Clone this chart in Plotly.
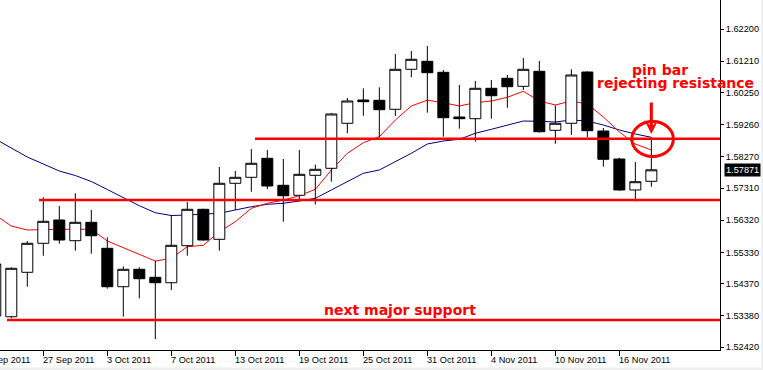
import plotly.graph_objects as go

# ---------------- data ----------------
bar_idx = list(range(-3, 39))   # trading-day index, 0 = 27 Sep 2011

opens = [1.53375, 1.53353, 1.54719, 1.55611, 1.56327, 1.55691, 1.56256, 1.55457, 1.54276, 1.54811,
         1.54565, 1.54399, 1.55537, 1.56656, 1.55734, 1.57456, 1.57640, 1.58224, 1.57394, 1.57087,
         1.57702, 1.57917, 1.59301, 1.60017, 1.60008, 1.59731, 1.60961, 1.61207, 1.60869, 1.59494,
         1.59442, 1.60377, 1.60684, 1.60438, 1.60900, 1.59085, 1.59301, 1.60878, 1.59064, 1.58203,
         1.57250, 1.57517]
highs = [1.55000, 1.54872, 1.55681, 1.57025, 1.56758, 1.57148, 1.56635, 1.55795, 1.54903, 1.54872,
         1.55066, 1.56481, 1.56881, 1.56675, 1.57957, 1.57834, 1.58510, 1.58480, 1.58203, 1.58480,
         1.58028, 1.59617, 1.60079, 1.60377, 1.60408, 1.61432, 1.61524, 1.61678, 1.60940, 1.60478,
         1.60601, 1.60632, 1.60786, 1.61309, 1.61216, 1.59854, 1.60961, 1.60900, 1.59156, 1.58243,
         1.58111, 1.58870]
lows = [1.53340, 1.53304, 1.54276, 1.55229, 1.55598, 1.55383, 1.55291, 1.54215, 1.53353, 1.53919,
        1.52668, 1.54175, 1.55229, 1.55691, 1.55383, 1.56635, 1.57197, 1.57280, 1.56275, 1.56942,
        1.56804, 1.57505, 1.58993, 1.59534, 1.58870, 1.59525, 1.60715, 1.59627, 1.58889, 1.59135,
        1.58735, 1.59442, 1.59780, 1.60325, 1.59012, 1.58673, 1.58941, 1.58870, 1.57966, 1.57228,
        1.56902, 1.57351]
closes = [1.54974, 1.54842, 1.55611, 1.56287, 1.55712, 1.56256, 1.55844, 1.54276, 1.54811, 1.54522,
          1.54399, 1.55549, 1.56656, 1.55712, 1.57456, 1.57640, 1.58071, 1.57373, 1.57074, 1.57732,
          1.57886, 1.59587, 1.59986, 1.59965, 1.59719, 1.60961, 1.61269, 1.60857, 1.59473, 1.59442,
          1.60377, 1.60149, 1.60426, 1.60961, 1.59042, 1.59301, 1.60786, 1.59073, 1.58194, 1.57250,
          1.57505, 1.57871]

ma_fast = [1.56481, 1.56143, 1.56020, 1.56041, 1.56041, 1.56041, 1.56041, 1.55681, 1.55475, 1.55282,
           1.55066, 1.55149, 1.55506, 1.55549, 1.55967, 1.56275, 1.56687, 1.56841, 1.56942, 1.57074,
           1.57271, 1.57865, 1.58378, 1.58704, 1.58889, 1.59402, 1.59833, 1.60011, 1.59934, 1.59833,
           1.59934, 1.59986, 1.60100, 1.60285, 1.59986, 1.59863, 1.59986, 1.59894, 1.59494, 1.59033,
           1.58664, 1.58480]
ma_slow = [1.58818, 1.58541, 1.58264, 1.58049, 1.57834, 1.57695, 1.57511, 1.57265, 1.57019, 1.56767,
           1.56551, 1.56465, 1.56481, 1.56502, 1.56533, 1.56635, 1.56736, 1.56810, 1.56841, 1.56911,
           1.56994, 1.57250, 1.57505, 1.57763, 1.57865, 1.58120, 1.58378, 1.58664, 1.58756, 1.58809,
           1.58993, 1.59116, 1.59239, 1.59371, 1.59362, 1.59341, 1.59402, 1.59371, 1.59248, 1.59095,
           1.58972, 1.58870]

tick_idx = [-4, 0, 4, 8, 12, 16, 20, 24, 28, 32, 36]
tick_labels = ["21 Sep 2011", "27 Sep 2011", "3 Oct 2011", "7 Oct 2011", "13 Oct 2011",
               "19 Oct 2011", "25 Oct 2011", "31 Oct 2011", "4 Nov 2011", "10 Nov 2011",
               "16 Nov 2011"]

price_ticks = [1.62200, 1.61210, 1.60250, 1.59260, 1.58270, 1.57310, 1.56320, 1.55330,
               1.54370, 1.53380, 1.52420]
price_tick_labels = ["1.62200", "1.61210", "1.60250", "1.59260", "1.58270", "1.57310",
                     "1.56320", "1.55330", "1.54370", "1.53380", "1.52420"]
last_price = 1.57871
last_price_label = "1.57871"

levels = [1.58824, 1.56942, 1.53252]          # drawn horizontal lines
level_start = [13.23, -0.27, -2.27]           # bar index where each line begins

pin_bar_idx = 38
circle_x = [36.78, 39.375]
circle_y = [1.58280, 1.59356]
arrow_tip = 1.58971

notes = ["pin bar", "rejecting resistance", "next major support"]
note_x = [38.54, 39.49, 22.27]
note_y = [1.60949, 1.60555, 1.53560]

# ---------------- figure ----------------
x_range = [-2.706, 42.29]
y_range = [1.52330, 1.63092]
RED = "#ff0000"
AX_FONT = dict(family="Liberation Sans, Arial, sans-serif", size=9.2, color="black")

fig = go.Figure()

# moving averages on the base axes (drawn beneath candles)
fig.add_trace(go.Scatter(x=bar_idx, y=ma_slow, mode="lines",
                         line=dict(color="#000080", width=1), hoverinfo="skip",
                         showlegend=False, xaxis="x", yaxis="y"))
fig.add_trace(go.Scatter(x=bar_idx, y=ma_fast, mode="lines",
                         line=dict(color=RED, width=1), hoverinfo="skip",
                         showlegend=False, xaxis="x", yaxis="y"))

# candles on overlaying axes so they sit above the MA lines
fig.add_trace(go.Candlestick(x=bar_idx, open=opens, high=highs, low=lows, close=closes,
                             increasing=dict(line=dict(color="black", width=1), fillcolor="white"),
                             decreasing=dict(line=dict(color="black", width=1), fillcolor="black"),
                             whiskerwidth=0, hoverinfo="skip", showlegend=False,
                             xaxis="x2", yaxis="y2"))

shapes = []
for lv, xs in zip(levels, level_start):
    shapes.append(dict(type="line", xref="x", yref="y", x0=xs, x1=x_range[1], y0=lv, y1=lv,
                       line=dict(color=RED, width=2.5), layer="above"))
shapes.append(dict(type="circle", xref="x", yref="y", x0=circle_x[0], x1=circle_x[1],
                   y0=circle_y[0], y1=circle_y[1], line=dict(color=RED, width=3), layer="above"))
# light window frame at bottom / right edge
shapes.append(dict(type="rect", xref="paper", yref="paper", x0=-0.01, x1=1.1,
                   y0=-20 / 350, y1=-17.5 / 350, fillcolor="#f0f0f0", line=dict(width=0)))
shapes.append(dict(type="rect", xref="paper", yref="paper", x0=761 / 720, x1=1.1,
                   y0=-0.1, y1=1.01, fillcolor="#f0f0f0", line=dict(width=0)))

annotations = []
span = x_range[1] - x_range[0]
for ti, tl in zip(tick_idx, tick_labels):
    annotations.append(dict(text=tl, xref="paper", yref="paper",
                            x=(ti - x_range[0]) / span, y=0, xanchor="left", yanchor="top",
                            xshift=-2, yshift=-3, showarrow=False, font=AX_FONT))

for t, nx, ny in zip(notes, note_x, note_y):
    annotations.append(dict(text=t, x=nx, y=ny, xref="x", yref="y", showarrow=False,
                            xanchor="center", yanchor="middle",
                            font=dict(family="DejaVu Sans", size=14, color=RED, weight="bold")))

annotations.append(dict(x=pin_bar_idx, y=arrow_tip, xref="x", yref="y", text="",
                        showarrow=True, arrowhead=3, arrowsize=0.8, arrowwidth=3,
                        arrowcolor=RED, ax=0, ay=-33, standoff=0))

annotations.append(dict(text=last_price_label, xref="paper", yref="y", x=1, y=last_price,
                        xanchor="left", yanchor="middle", xshift=4, showarrow=False,
                        bgcolor="black", borderpad=1,
                        font=dict(family="Liberation Sans, Arial, sans-serif", size=9.2,
                                  color="white")))

axis_common = dict(showgrid=False, zeroline=False)
fig.update_layout(
    width=763, height=370,
    margin=dict(l=0, r=43, t=0, b=20),
    paper_bgcolor="white", plot_bgcolor="white",
    showlegend=False, hovermode=False,
    boxgap=0.3, boxgroupgap=0.02,
    xaxis=dict(range=x_range, tickvals=tick_idx, showticklabels=False, ticks="outside",
               ticklen=5, tickcolor="black", showline=True, linecolor="black", linewidth=1,
               rangeslider=dict(visible=False), **axis_common),
    yaxis=dict(range=y_range, side="right", tickvals=price_ticks, ticktext=price_tick_labels,
               ticks="outside", ticklen=3, tickcolor="black", showline=True, linecolor="black",
               linewidth=1, tickfont=AX_FONT, **axis_common),
    xaxis2=dict(range=x_range, overlaying="x", visible=False,
                rangeslider=dict(visible=False), **axis_common),
    yaxis2=dict(range=y_range, overlaying="y", visible=False, **axis_common),
    shapes=shapes,
    annotations=annotations,
)

fig.write_html("out.html", config={"displayModeBar": False},
               post_script="document.body.style.margin='0px';document.body.style.overflow='hidden';")
